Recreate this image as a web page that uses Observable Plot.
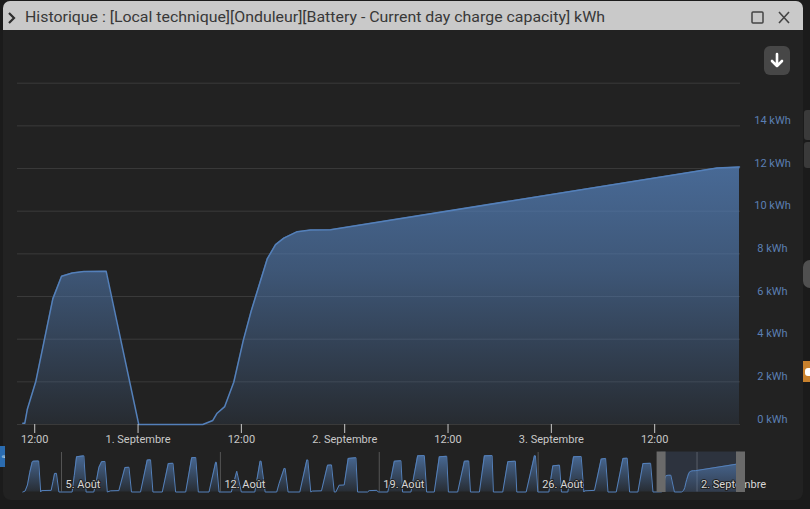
<!DOCTYPE html>
<html><head><meta charset="utf-8">
<script src="https://cdn.jsdelivr.net/npm/d3@7"></script>
<script src="https://cdn.jsdelivr.net/npm/@observablehq/plot@0.6"></script>
<style>
html,body{margin:0;padding:0;background:#1b1b1b;width:810px;height:509px;overflow:hidden;font-family:Roboto,"Noto Sans",sans-serif}
#wrap{position:relative;width:810px;height:509px}
#panel{position:absolute;left:3px;top:1px;width:800px;height:499px;background:#222222;border-radius:8px}
#titlebar{position:absolute;left:3px;top:1px;width:800px;height:29px;background:#c9c9c9;border-radius:7px 7px 0 0}
#title{position:absolute;left:25px;top:8px;font-size:15.5px;color:#383838;white-space:nowrap;transform-origin:0 50%;line-height:19px}
.abs{position:absolute}
#main,#nav{position:absolute;left:0}
#main{top:30px}
#nav{top:448px}
</style></head>
<body><div id="wrap">
<div id="panel"></div>
<div id="titlebar"></div>
<svg class="abs" style="left:0;top:0" width="810" height="30">
  <polyline points="9,13 14,18 9,23" fill="none" stroke="#2e2e2e" stroke-width="2.2"/>
  <rect x="752" y="12" width="11" height="11" fill="none" stroke="#444" stroke-width="1.5" rx="1"/>
  <path d="M779 12 L789 23 M789 12 L779 23" stroke="#444" stroke-width="1.6"/>
</svg>
<div id="title">Historique : [Local technique][Onduleur][Battery - Current day charge capacity] kWh</div>
<div id="main"></div>
<div id="nav"></div>
<div class="abs" style="left:764px;top:46px;width:26px;height:29px;background:#474747;border-radius:6px">
  <svg width="26" height="29"><path d="M13 8 L13 20 M8 15 L13 20 L18 15" fill="none" stroke="#fff" stroke-width="2.6" stroke-linecap="round" stroke-linejoin="round"/></svg>
</div>
<div class="abs" style="left:804px;top:110px;width:6px;height:30px;background:#3a3a3a;border-radius:3px 0 0 3px"></div>
<div class="abs" style="left:804px;top:142px;width:6px;height:26px;background:#3a3a3a;border-radius:3px 0 0 3px"></div>
<div class="abs" style="left:803px;top:260px;width:7px;height:28px;background:#505050;border-radius:14px 0 0 14px"></div>
<div class="abs" style="left:803px;top:361px;width:7px;height:21px;background:#c8812d;overflow:hidden"><div style="width:6px;height:8px;margin:7px 0 0 2px;background:#fff;border-radius:3px 0 0 3px"></div></div>
<svg class="abs" style="left:0;top:446px" width="5" height="21"><rect width="5" height="21" fill="#2b6cb0"/><text x="2.5" y="10.5" transform="rotate(-90 2.5 10.5)" text-anchor="middle" dominant-baseline="central" font-size="5" fill="#fff" font-family="Roboto">a</text></svg>
</div>
<script>
// ---------- DATA ----------
// Navigator-only history (Aug 3 – Aug 30): [time UTC, kWh]
const historyEarly = [
 ["2024-08-03 07:05",0],["2024-08-03 09:30",0.4],["2024-08-03 12:00",3.0],["2024-08-03 14:30",8.5],["2024-08-03 17:00",12.8],["2024-08-03 18:00",13.2],["2024-08-03 23:50",13.3],["2024-08-04 02:00",0],
 ["2024-08-04 02:50",0.6],["2024-08-04 13:05",0.7],["2024-08-04 15:00",4.5],["2024-08-04 16:40",7.9],["2024-08-04 18:40",8.0],["2024-08-04 21:15",0],
 ["2024-08-05 11:15",0],["2024-08-05 13:30",7.0],["2024-08-05 15:55",15.1],["2024-08-05 23:40",15.5],["2024-08-06 02:00",0],
 ["2024-08-06 10:10",0],["2024-08-06 13:00",5.0],["2024-08-06 15:30",10.5],["2024-08-06 18:25",13.0],["2024-08-06 21:55",13.1],["2024-08-07 00:25",0],
 ["2024-08-07 03:55",0.5],["2024-08-07 12:40",0.6],["2024-08-07 19:05",10.5],["2024-08-07 23:20",10.6],["2024-08-08 02:00",0],
 ["2024-08-08 11:35",0],["2024-08-08 18:40",13.7],["2024-08-08 22:10",13.8],["2024-08-09 00:40",0],
 ["2024-08-09 10:35",0],["2024-08-09 16:55",12.2],["2024-08-09 21:55",12.3],["2024-08-10 00:40",0],
 ["2024-08-10 11:20",0],["2024-08-10 17:40",14.7],["2024-08-10 21:55",14.8],["2024-08-11 00:40",0],
 ["2024-08-11 12:00",0],["2024-08-11 19:00",12.7],["2024-08-11 19:50",12.7],["2024-08-11 22:35",0],
 ["2024-08-12 11:35",0],["2024-08-12 17:20",8.9],["2024-08-12 22:10",0],
 ["2024-08-13 12:25",0],["2024-08-13 18:00",13.2],["2024-08-13 19:05",13.2],["2024-08-13 23:20",0],
 ["2024-08-14 11:35",0],["2024-08-14 14:05",3.6],["2024-08-14 19:25",10.1],["2024-08-14 20:30",10.1],["2024-08-14 23:35",0],
 ["2024-08-15 12:00",0],["2024-08-15 19:25",13.7],["2024-08-15 20:30",13.7],["2024-08-15 23:35",0],
 ["2024-08-16 01:25",0.4],["2024-08-16 10:55",0.5],["2024-08-16 17:20",11.5],["2024-08-16 21:30",11.6],["2024-08-17 00:25",0],
 ["2024-08-17 02:05",0],["2024-08-17 05:35",2.9],["2024-08-17 10:55",3.0],["2024-08-17 15:10",14.4],["2024-08-17 23:20",14.7],["2024-08-18 01:05",0],
 ["2024-08-18 11:35",0],["2024-08-18 13:25",0.6],["2024-08-18 21:30",0.7],["2024-08-18 22:55",0],
 ["2024-08-19 09:00",0],["2024-08-19 12:30",6.0],["2024-08-19 15:55",13.2],["2024-08-19 22:55",13.4],["2024-08-20 00:40",0],
 ["2024-08-20 09:30",0],["2024-08-20 16:35",15.5],["2024-08-20 23:40",15.6],["2024-08-21 02:05",0],
 ["2024-08-21 10:10",0],["2024-08-21 15:30",15.1],["2024-08-21 23:20",15.3],["2024-08-22 01:05",0],
 ["2024-08-22 10:55",0],["2024-08-22 18:00",13.2],["2024-08-22 22:35",13.3],["2024-08-23 00:25",0],
 ["2024-08-23 09:55",0],["2024-08-23 15:10",15.5],["2024-08-23 23:20",15.6],["2024-08-24 00:40",0],
 ["2024-08-24 10:35",0],["2024-08-24 15:55",13.0],["2024-08-24 23:55",13.2],["2024-08-25 01:25",0],
 ["2024-08-25 11:20",0],["2024-08-25 20:05",15.5],["2024-08-25 21:10",15.5],["2024-08-25 23:40",0],
 ["2024-08-26 11:20",0],["2024-08-26 15:30",11.2],["2024-08-26 22:35",11.5],["2024-08-27 00:40",0],
 ["2024-08-27 07:25",0],["2024-08-27 13:25",15.1],["2024-08-27 21:30",15.2],["2024-08-28 00:20",0],
 ["2024-08-28 01:05",0.5],["2024-08-28 11:35",0.7],["2024-08-28 18:40",14.1],["2024-08-28 23:20",14.4],["2024-08-29 01:50",0],
 ["2024-08-29 10:35",0],["2024-08-29 17:40",14.4],["2024-08-29 22:10",14.5],["2024-08-30 00:40",0],
 ["2024-08-30 09:30",0],["2024-08-30 14:50",12.2],["2024-08-30 22:55",12.3],["2024-08-31 01:25",0]
];
// Main (zoomed) series, Aug 31 – Sep 3
const mainSeries = [
 ["2024-08-31 10:37",0.06],["2024-08-31 10:51",0.06],["2024-08-31 11:08",0.7],["2024-08-31 12:08",2.03],
 ["2024-08-31 14:06",5.89],["2024-08-31 15:07",6.95],["2024-08-31 16:21",7.10],["2024-08-31 17:42",7.17],
 ["2024-08-31 20:18",7.18],["2024-09-01 00:05",0],["2024-09-01 07:31",0],["2024-09-01 08:41",0.19],
 ["2024-09-01 09:11",0.53],["2024-09-01 10:04",0.84],["2024-09-01 11:07",1.98],["2024-09-01 12:13",3.93],
 ["2024-09-01 13:08",5.31],["2024-09-01 15:00",7.76],["2024-09-01 15:58",8.43],["2024-09-01 16:56",8.74],
 ["2024-09-01 18:29",9.04],["2024-09-01 20:02",9.12],["2024-09-01 22:21",9.13],["2024-09-03 19:15",12.02],
 ["2024-09-03 21:51",12.07]
];
const mainRange = ["2024-08-31 10:00","2024-09-03 21:58"];
const navRange = ["2024-08-03 07:05","2024-09-03 21:58"];
const yTicks = [0,2,4,6,8,10,12,14];
const yGrid = [0,2,4,6,8,10,12,14,16];
const navTicks = ["2024-08-05 00:00","2024-08-12 00:00","2024-08-19 00:00","2024-08-26 00:00","2024-09-02 00:00"];
const navTickLabels = ["5. Août","12. Août","19. Août","26. Août","2. Septembre"];
const monthsFR = ["Janvier","Février","Mars","Avril","Mai","Juin","Juillet","Août","Septembre","Octobre","Novembre","Décembre"];

// ---------- BUILD ----------
const parse = d3.utcParse("%Y-%m-%d %H:%M");
const toRows = a => a.map(([t,v]) => ({date: parse(t), value: v}));
const main = toRows(mainSeries);
const nav = toRows(historyEarly).concat(main);
const mDom = mainRange.map(parse);
const nDom = navRange.map(parse);
const navT = navTicks.map((t,i) => ({date: parse(t), label: navTickLabels[i]}));
const lineColor = "#5480ba";

function addGradient(svg, id, stops) {
  const ns = "http://www.w3.org/2000/svg";
  const defs = document.createElementNS(ns, "defs");
  const lg = document.createElementNS(ns, "linearGradient");
  lg.setAttribute("id", id); lg.setAttribute("x1", 0); lg.setAttribute("y1", 0); lg.setAttribute("x2", 0); lg.setAttribute("y2", 1);
  for (const [o, op] of stops) {
    const s = document.createElementNS(ns, "stop");
    s.setAttribute("offset", o); s.setAttribute("stop-color", lineColor); s.setAttribute("stop-opacity", op);
    lg.appendChild(s);
  }
  defs.appendChild(lg); svg.insertBefore(defs, svg.firstChild);
}

const xTicks = d3.utcHour.every(12).range(mDom[0], mDom[1]);
const xFmt = d => d.getUTCHours() === 0 ? `${d.getUTCDate()}. ${monthsFR[d.getUTCMonth()]}` : d3.utcFormat("%H:%M")(d);

const mainSvg = Plot.plot({
  width: 810, height: 420,
  marginLeft: 17, marginRight: 70, marginTop: 52.7, marginBottom: 26,
  style: {background: "transparent", fontFamily: "Roboto, sans-serif"},
  x: {type: "utc", domain: mDom},
  y: {domain: [0, 16]},
  marks: [
    Plot.gridY(yGrid, {stroke: "#3a3a3a", strokeOpacity: 1}),
    Plot.areaY(main, {x: "date", y: "value", fill: "url(#gMain)"}),
    Plot.lineY(main, {x: "date", y: "value", stroke: lineColor, strokeWidth: 1.5}),
    Plot.axisX({ticks: xTicks, tickFormat: xFmt, tickSize: 9, tickPadding: 1.5, fontSize: 11, color: "#c8c8c8", label: null}),
    Plot.axisY({anchor: "right", ticks: yTicks, tickFormat: d => d + " kWh", tickSize: 0, tickPadding: 0, dx: 32, dy: -5.5, textAnchor: "middle", fontSize: 11, color: "#5b7fb3", label: null})
  ]
});
addGradient(mainSvg, "gMain", [[0, 0.76], [0.4, 0.56], [1, 0.1]]);
document.getElementById("main").appendChild(mainSvg);

const navSvg = Plot.plot({
  width: 810, height: 50,
  marginLeft: 22.3, marginRight: 70, marginTop: 5, marginBottom: 6.5,
  style: {background: "transparent", fontFamily: "Roboto, sans-serif"},
  x: {type: "utc", domain: nDom, axis: null},
  y: {domain: [0, 16.5], axis: null},
  marks: [
    Plot.ruleX(navT, {x: "date", stroke: "#555", strokeWidth: 1, insetTop: -1}),
    Plot.rect([mDom], {x1: d => d[0], x2: d => d[1], fill: "#6685c2", fillOpacity: 0.18, insetTop: -1.5, insetBottom: -0.5}),
    Plot.areaY(nav, {x: "date", y: "value", fill: "url(#gNav)"}),
    Plot.lineY(nav, {x: "date", y: "value", stroke: lineColor, strokeWidth: 1}),
    Plot.text(navT, {x: "date", text: "label", frameAnchor: "bottom", lineAnchor: "middle", dy: -7.5, dx: 4, textAnchor: "start", fill: "#d8d8d8", stroke: "#222", strokeWidth: 2, fontSize: 11}),
    Plot.ruleX(mDom, {stroke: "#6a6a6a", strokeWidth: 9, insetTop: -1.5, insetBottom: -0.5})
  ]
});
addGradient(navSvg, "gNav", [[0, 0.76], [1, 0.12]]);
document.getElementById("nav").appendChild(navSvg);

// fit title width to reference
const title = document.getElementById("title");
const w = title.getBoundingClientRect().width;
title.style.transform = `scaleX(${580 / w})`;
</script>
</body></html>
